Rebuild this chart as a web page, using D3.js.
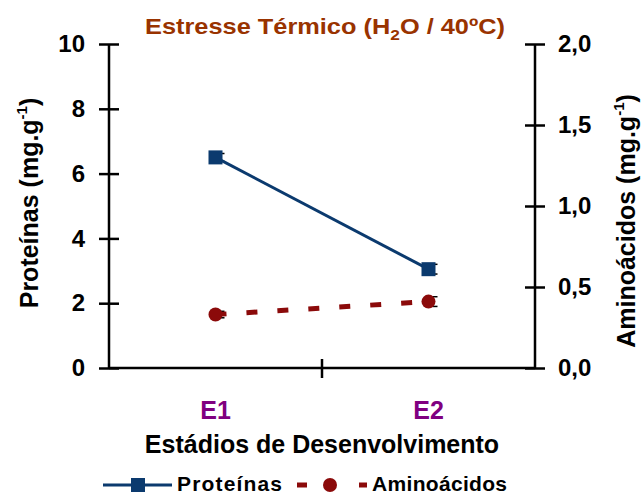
<!DOCTYPE html>
<html><head><meta charset="utf-8">
<script src="https://cdn.jsdelivr.net/npm/d3@7"></script>
<style>body{margin:0;background:#fff}svg{display:block;font-family:"Liberation Sans",Arial,sans-serif}</style>
</head><body>
<svg id="c" width="644" height="495"></svg>
<script>
const categories = ["E1", "E2"];
const proteinas = [6.5, 3.05];
const proteinasErr = [0.12, 0.15];
const aminoacidos = [0.33, 0.41];
const aminoacidosErr = [0.02, 0.03];
const leftTicks = [0, 2, 4, 6, 8, 10];
const rightTicks = [0, 0.5, 1.0, 1.5, 2.0];

const svg = d3.select("#c");
const L = 109, R = 535, T = 44, B = 368;
const x = d3.scalePoint().domain(categories).range([L, R]).padding(0.5);
const yL = d3.scaleLinear().domain([0, 10]).range([B, T]);
const yR = d3.scaleLinear().domain([0, 2]).range([B, T]);
const blue = "#0b3a6e", red = "#8b0a0a";
const fmt = d => d3.format(".1f")(d).replace(".", ",");

// axes
const gL = svg.append("g").attr("transform", `translate(${L},0)`)
  .call(d3.axisLeft(yL).tickValues(leftTicks).tickSize(10).tickPadding(14));
const gR = svg.append("g").attr("transform", `translate(${R},0)`)
  .call(d3.axisRight(yR).tickValues(rightTicks).tickSize(10).tickPadding(13).tickFormat(fmt));
[gL, gR].forEach(g => {
  g.select(".domain").remove();
  g.selectAll(".tick line").attr("stroke", "#000").attr("stroke-width", 2.5).attr("x1", -10).attr("x2", 10);
  g.selectAll(".tick text").attr("font-size", 24).attr("font-weight", "bold").attr("fill", "#000");
});
svg.append("line").attr("x1", L).attr("x2", L).attr("y1", T).attr("y2", B).attr("stroke", "#000").attr("stroke-width", 2.5);
svg.append("line").attr("x1", R).attr("x2", R).attr("y1", T).attr("y2", B).attr("stroke", "#000").attr("stroke-width", 2.5);

// bottom axis
svg.append("line").attr("x1", L).attr("x2", R).attr("y1", B).attr("y2", B).attr("stroke", "#000").attr("stroke-width", 2.5);
svg.append("line").attr("x1", (L + R) / 2).attr("x2", (L + R) / 2).attr("y1", B - 9).attr("y2", B + 10).attr("stroke", "#000").attr("stroke-width", 2.5);
svg.selectAll(".xl").data(categories).enter().append("text")
  .attr("x", d => x(d)).attr("y", 419).attr("text-anchor", "middle")
  .attr("font-size", 25).attr("font-weight", "bold").attr("fill", "#800080").text(d => d);

// titles
svg.append("text").attr("x", 145).attr("y", 34)
  .attr("font-size", 22).attr("font-weight", "bold").attr("fill", "#993300")
  .attr("textLength", 360).attr("lengthAdjust", "spacingAndGlyphs")
  .html('Estresse Térmico (H<tspan font-size="15" dy="6">2</tspan><tspan dy="-6">O / 40ºC)</tspan>');
svg.append("text").attr("x", 322).attr("y", 453).attr("text-anchor", "middle")
  .attr("font-size", 25).attr("font-weight", "bold").attr("fill", "#000").text("Estádios de Desenvolvimento");
svg.append("text").attr("transform", "translate(38,203) rotate(-90)").attr("text-anchor", "middle")
  .attr("font-size", 25).attr("font-weight", "bold")
  .html('Proteínas (mg.g<tspan font-size="15" dy="-11">-1</tspan><tspan dy="11">)</tspan>');
svg.append("text").attr("transform", "translate(635,221) rotate(-90)").attr("text-anchor", "middle")
  .attr("font-size", 25).attr("font-weight", "bold")
  .html('Aminoácidos (mg.g<tspan font-size="15" dy="-11">-1</tspan><tspan dy="11">)</tspan>');

// error bars
function errBars(vals, errs, y) {
  categories.forEach((c, i) => {
    const cx = x(c) + 4;
    const a = vals[i] - errs[i], b = vals[i] + errs[i];
    svg.append("line").attr("x1", cx).attr("x2", cx).attr("y1", y(a)).attr("y2", y(b)).attr("stroke", "#000").attr("stroke-width", 1.5);
    [a, b].forEach(v => svg.append("line").attr("x1", cx).attr("x2", cx + 5).attr("y1", y(v)).attr("y2", y(v)).attr("stroke", "#000").attr("stroke-width", 1.5));
  });
}
errBars(proteinas, proteinasErr, yL);
errBars(aminoacidos, aminoacidosErr, yR);

// lines
const lineP = d3.line().x((d, i) => x(categories[i])).y(d => yL(d));
const lineA = d3.line().x((d, i) => x(categories[i])).y(d => yR(d));
svg.append("path").attr("d", lineP(proteinas)).attr("fill", "none").attr("stroke", blue).attr("stroke-width", 3);
svg.append("path").attr("d", lineA(aminoacidos)).attr("fill", "none").attr("stroke", red).attr("stroke-width", 5).attr("stroke-dasharray", "11,20");
svg.selectAll(".sq").data(proteinas).enter().append("rect")
  .attr("x", (d, i) => x(categories[i]) - 7).attr("y", d => yL(d) - 7).attr("width", 14).attr("height", 14).attr("fill", blue);
svg.selectAll(".ci").data(aminoacidos).enter().append("circle")
  .attr("cx", (d, i) => x(categories[i])).attr("cy", d => yR(d)).attr("r", 7).attr("fill", red);

// legend
const ly = 485;
svg.append("line").attr("x1", 103).attr("x2", 172).attr("y1", ly).attr("y2", ly).attr("stroke", blue).attr("stroke-width", 3);
svg.append("rect").attr("x", 131).attr("y", ly - 7).attr("width", 14).attr("height", 14).attr("fill", blue);
svg.append("text").attr("x", 177).attr("y", 491).attr("font-size", 21).attr("font-weight", "bold")
  .attr("textLength", 105).attr("lengthAdjust", "spacing").text("Proteínas");
svg.append("line").attr("x1", 297).attr("x2", 307).attr("y1", ly).attr("y2", ly).attr("stroke", red).attr("stroke-width", 5);
svg.append("circle").attr("cx", 330).attr("cy", ly).attr("r", 7).attr("fill", red);
svg.append("line").attr("x1", 359).attr("x2", 367).attr("y1", ly).attr("y2", ly).attr("stroke", red).attr("stroke-width", 5);
svg.append("text").attr("x", 372).attr("y", 491).attr("font-size", 21).attr("font-weight", "bold")
  .attr("textLength", 135).attr("lengthAdjust", "spacing").text("Aminoácidos");
</script>
</body></html>
